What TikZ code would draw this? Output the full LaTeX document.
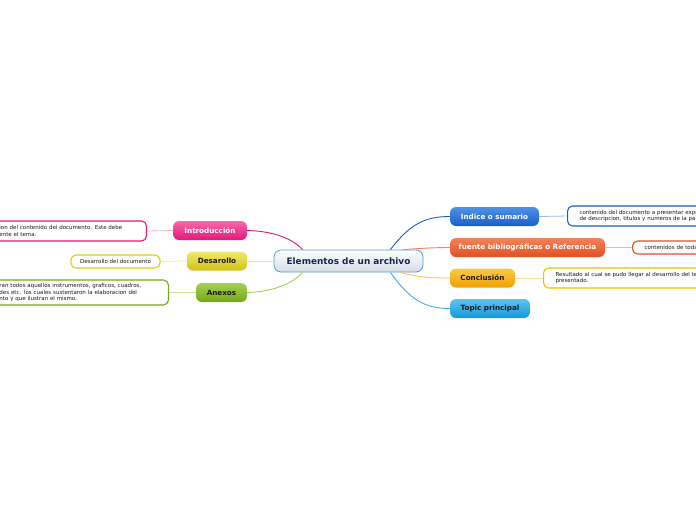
\documentclass[tikz,border=0pt]{standalone}
\usepackage{fontspec}
\setmainfont{DejaVu Sans}
\usetikzlibrary{positioning}
\definecolor{introc}{HTML}{E5177A}
\definecolor{introl}{HTML}{F56AA8}
\definecolor{desac}{HTML}{D2C215}
\definecolor{desal}{HTML}{F0E870}
\definecolor{anexc}{HTML}{72A81A}
\definecolor{anexl}{HTML}{A8D050}
\definecolor{indc}{HTML}{1A5FC8}
\definecolor{indl}{HTML}{4E92E6}
\definecolor{fuec}{HTML}{E0501F}
\definecolor{fuel}{HTML}{F2835A}
\definecolor{conc}{HTML}{EEA200}
\definecolor{conl}{HTML}{FAC948}
\definecolor{topc}{HTML}{1598DA}
\definecolor{topl}{HTML}{5AC4F2}
\definecolor{rootb}{HTML}{5C9BD2}
\definecolor{rootf}{HTML}{D3DCE6}
\definecolor{roott}{HTML}{17284A}
\definecolor{darktxt}{HTML}{1A1A1A}

\begin{document}
\begin{tikzpicture}[x=1pt, y=-1pt,
    topic/.style={rounded corners=6pt, minimum height=19pt, inner sep=0pt,
                  font=\fontsize{7.2}{8}\selectfont\bfseries},
    detail/.style={draw, rounded corners=5pt, fill=white, line width=1.1pt,
                   minimum height=20pt, inner xsep=12pt, inner ysep=2pt,
                   align=left, text=darktxt, font=\fontsize{5.5}{6.6}\selectfont},
    link/.style={line width=0.9pt},
    sublink/.style={line width=0.8pt}
  ]
  \useasboundingbox (0,0) rectangle (696,520);
  \clip (0,0) rectangle (696,520);
  \fill[white] (0,0) rectangle (696,520);

  \node[draw=rootb, line width=0.8pt, rounded corners=7pt, top color=white, bottom color=rootf,
        minimum width=149pt, minimum height=22pt, inner sep=0pt, text=roott,
        font=\fontsize{8.9}{10}\selectfont\bfseries] (root) at (348.5,261) {Elementos de un archivo};

  \node[topic, top color=introl, bottom color=introc, minimum width=74pt, text=white] (intro) at (210,230.5) {Introducción};
  \node[topic, top color=desal, bottom color=desac, minimum width=60pt, text=darktxt] (desa) at (217,261) {Desarollo};
  \node[topic, top color=anexl, bottom color=anexc, minimum width=51pt, text=darktxt] (anex) at (221.5,292.5) {Anexos};
  \node[topic, top color=indl, bottom color=indc, minimum width=89pt, text=white] (indice) at (494.5,216.5) {Indice o sumario};
  \node[topic, top color=fuel, bottom color=fuec, minimum width=155pt, text=white] (fuente) at (527.5,247.5) {fuente bibliográficas o Referencia};
  \node[topic, top color=conl, bottom color=conc, minimum width=65pt, text=darktxt] (concl) at (482.5,278) {Conclusión};
  \node[topic, top color=topl, bottom color=topc, minimum width=80pt, text=darktxt] (topicp) at (490,308.5) {Topic principal};

  \node[detail, draw=introc, anchor=east, text width=135pt] (introd) at (147,231)
    {ion del contenido del documento. Este debe\\ente el tema.};
  \node[detail, draw=desac!80!yellow, minimum width=89pt, minimum height=13pt, align=center, inner xsep=2pt] (desad) at (115.5,261.5)
    {Desarrollo del documento};
  \node[detail, draw=anexc, anchor=east, text width=157pt, minimum height=25pt] (anexd) at (169,292.5)
    {ran todos aquellos instrumentos, graficos, cuadros,\\des etc. los cuales sustentaron la elaboracion del\\nto y que ilustran el mismo.};
  \node[detail, draw=indc, anchor=west, text width=200pt] (indiced) at (567,216)
    {contenido del documento a presentar expr\\de descripcion, titulos y numeros de la pa};
  \node[detail, draw=fuec, anchor=west, text width=100pt, minimum height=13pt] (fuented) at (632,247.5)
    {contenidos de todas};
  \node[detail, draw=conc!70!yellow, anchor=west, text width=200pt] (concld) at (543,278)
    {Resultado al cual se pudo llegar al desarrollo del te\\presentado.};

  \draw[link, introc] ([xshift=29pt]root.north west) .. controls (290,236) and (268,231) .. (intro.east);
  \draw[link, desal] (root.west) -- (desa.east);
  \draw[link, anexl] ([xshift=29pt]root.south west) .. controls (290,286) and (268,292) .. (anex.east);
  \draw[link, indc] ([xshift=-33pt]root.north east) .. controls (410,224) and (425,216.5) .. (indice.west);
  \draw[link, fuel] ([xshift=-20pt]root.north east) .. controls (425,248) and (438,247.5) .. (fuente.west);
  \draw[link, conl] ([xshift=-23pt]root.south east) .. controls (420,278) and (435,278) .. (concl.west);
  \draw[link, topc!80] ([xshift=-33pt]root.south east) .. controls (410,300) and (425,308.5) .. (topicp.west);

  \draw[sublink, introc!35] (intro.west) -- (introd.east);
  \draw[sublink, desal!70] (desa.west) -- (desad.east);
  \draw[sublink, anexl!60] (anex.west) -- (anexd.east);
  \draw[sublink, indl!60] (indice.east) -- (indiced.west);
  \draw[sublink, fuel!60] (fuente.east) -- (fuented.west);
  \draw[sublink, conl!60] (concl.east) -- (concld.west);
\end{tikzpicture}
\end{document}
